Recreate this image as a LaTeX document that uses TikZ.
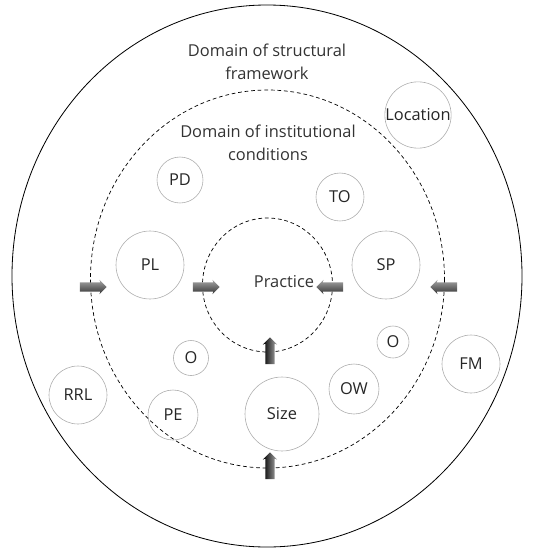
\documentclass[tikz,border=0pt]{standalone}
\usepackage{fontspec}
\setmainfont{Open Sans}
\usetikzlibrary{shapes.arrows}

\begin{document}
\begin{tikzpicture}[x=0.03cm, y=-0.03cm,
  bub/.style={circle, draw=gray!65, line width=0.5pt, inner sep=0pt,
    minimum size=#1*0.06cm, font=\fontsize{14}{16}\selectfont, text=black!85},
  dom/.style={dash pattern=on 3.2pt off 2.4pt, line width=0.6pt},
  lab/.style={align=center, font=\fontsize{14}{19.5}\selectfont, text=black!80},
  push/.style={single arrow, inner sep=0.13cm, minimum height=0.8cm,
    single arrow head extend=0.08cm, single arrow head indent=0.03cm,
    draw=none}]

  \useasboundingbox (0,0) rectangle (553,550);

  % domains
  \draw[line width=0.7pt] (267,276) ellipse [x radius=255, y radius=271];
  \draw[dom] (267.5,279) ellipse [x radius=177, y radius=189];
  \draw[dom] (267.5,285) ellipse [x radius=65, y radius=67];

  \node[lab] (frame) at (267,62) {Domain of structural\\framework};
  \node[lab] (inst) at (268,143) {Domain of institutional\\conditions};
  \node[lab] (prac) at (284,282) {Practice};

  % factors
  \node[bub=32] (loc) at (418,115) {Location};
  \node[bub=23] (pd) at (180,180) {PD};
  \node[bub=24] (to) at (340,197) {TO};
  \node[bub=34] (pl) at (150,265) {PL};
  \node[bub=34] (sp) at (386,265) {SP};
  \node[bub=17.5] (ol) at (191,358) {O};
  \node[bub=16] (or) at (393,342) {O};
  \node[bub=29] (rrl) at (78,395) {RRL};
  \node[bub=25] (pe) at (173,415) {PE};
  \node[bub=37] (size) at (282,414) {Size};
  \node[bub=25] (ow) at (354,389) {OW};
  \node[bub=29] (fm) at (471,364) {FM};

  % influences
  \node[push, top color=gray!70, bottom color=black!80] (a1) at (91,287) {};
  \node[push, top color=gray!70, bottom color=black!80] (a2) at (204,287) {};
  \node[push, shape border rotate=180, top color=gray!70, bottom color=black!80] (a3) at (332,287) {};
  \node[push, shape border rotate=180, top color=gray!70, bottom color=black!80] (a4) at (446,287) {};
  \node[push, rotate=90, left color=black, right color=gray!65] (a5) at (270,353) {};
  \node[push, rotate=90, left color=black, right color=gray!65] (a6) at (270,468) {};

\end{tikzpicture}
\end{document}
